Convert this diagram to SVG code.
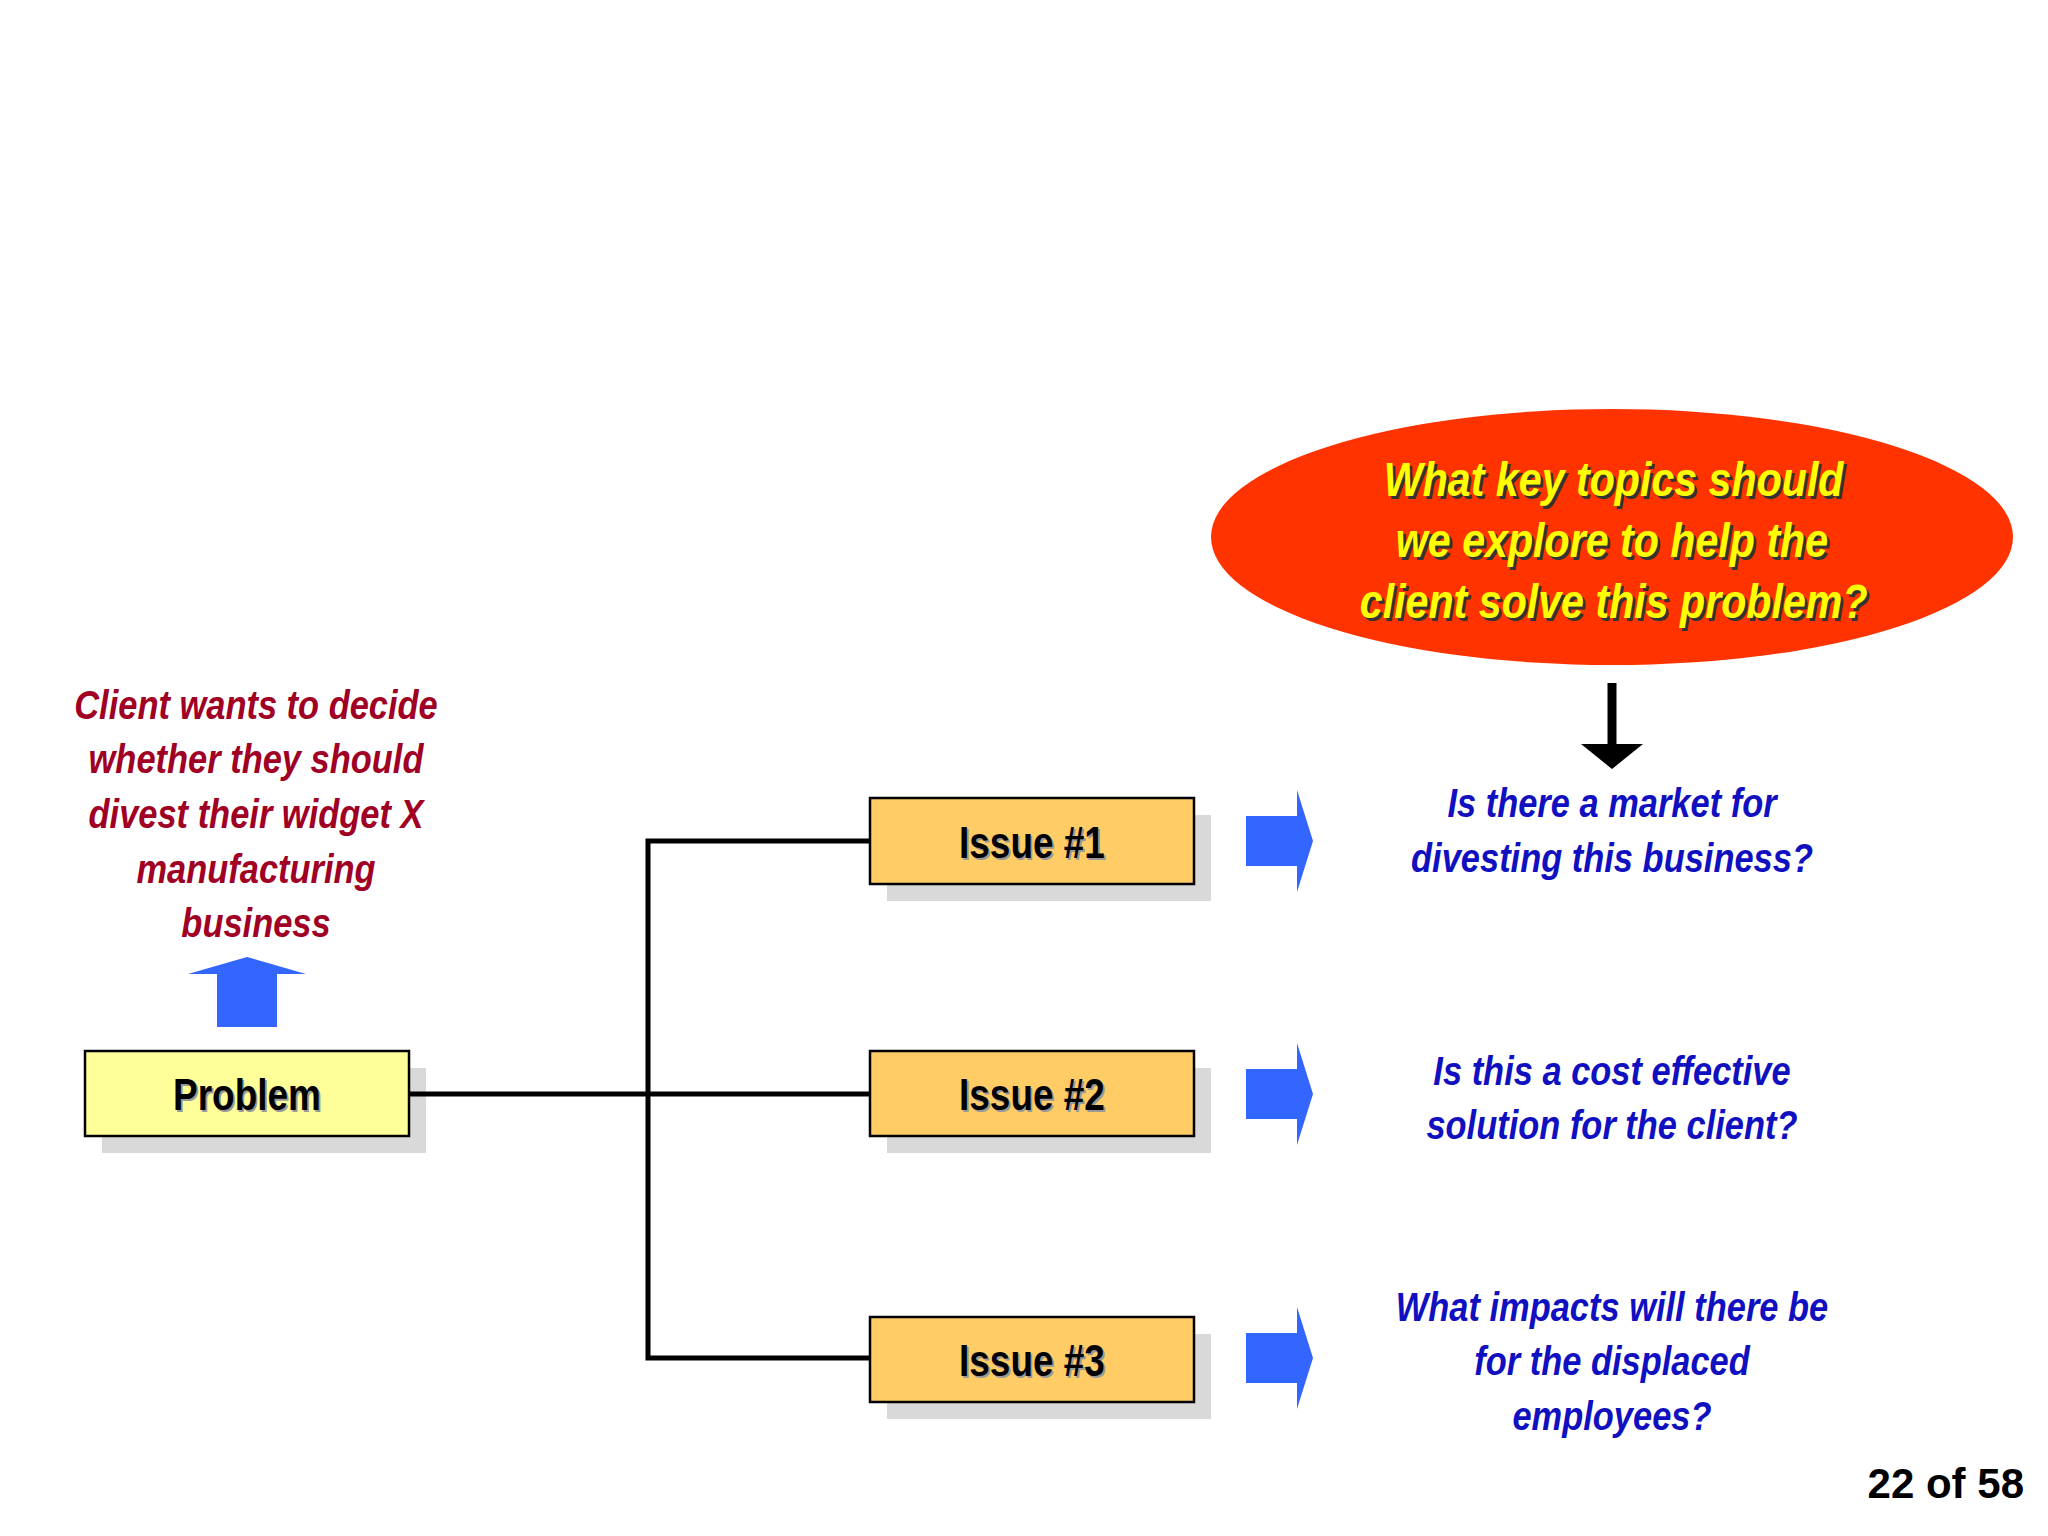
<svg xmlns="http://www.w3.org/2000/svg" width="2048" height="1536" viewBox="0 0 2048 1536">
<defs>
<style>
.sh{fill:#d9d9d9}
.box{stroke:#000;stroke-width:2.5}
.lbl{font-family:"Liberation Sans",Arial,sans-serif;font-weight:bold;font-size:44px;text-anchor:middle}
.q{font-family:"Liberation Sans",Arial,sans-serif;font-weight:bold;font-style:italic;font-size:41px;text-anchor:middle;fill:#1010c0}
.red{font-family:"Liberation Sans",Arial,sans-serif;font-weight:bold;font-style:italic;font-size:41px;text-anchor:middle;fill:#a00024}
.yel{font-family:"Liberation Sans",Arial,sans-serif;font-weight:bold;font-style:italic;font-size:49px;text-anchor:middle}
.barrow{fill:#3366ff}
</style>
<path id="ra" d="M1246,816 H1297 V790 L1313,841 L1297,892 V866 H1246 Z"/>
</defs>
<rect width="2048" height="1536" fill="#fff"/>
<g id="problem">
<rect class="sh" x="102" y="1068" width="324" height="85"/>
<rect class="box" x="85" y="1051" width="324" height="85" fill="#ffff99"/>
<g transform="translate(247,0) scale(0.84,1) translate(-247,0)">
<text class="lbl" x="249" y="1112" fill="#999">Problem</text>
<text class="lbl" x="247" y="1110">Problem</text>
</g>
</g>
<g id="issue1">
<rect class="sh" x="887" y="815" width="324" height="86"/>
<rect class="box" x="870" y="798" width="324" height="86" fill="#ffcc66"/>
<g transform="translate(1032,0) scale(0.84,1) translate(-1032,0)">
<text class="lbl" x="1034" y="860" fill="#999">Issue #1</text>
<text class="lbl" x="1032" y="858">Issue #1</text>
</g>
</g>
<g id="issue2">
<rect class="sh" x="887" y="1068" width="324" height="85"/>
<rect class="box" x="870" y="1051" width="324" height="85" fill="#ffcc66"/>
<g transform="translate(1032,0) scale(0.84,1) translate(-1032,0)">
<text class="lbl" x="1034" y="1112" fill="#999">Issue #2</text>
<text class="lbl" x="1032" y="1110">Issue #2</text>
</g>
</g>
<g id="issue3">
<rect class="sh" x="887" y="1334" width="324" height="85"/>
<rect class="box" x="870" y="1317" width="324" height="85" fill="#ffcc66"/>
<g transform="translate(1032,0) scale(0.84,1) translate(-1032,0)">
<text class="lbl" x="1034" y="1378" fill="#999">Issue #3</text>
<text class="lbl" x="1032" y="1376">Issue #3</text>
</g>
</g>
<g id="connectors" fill="none" stroke="#000" stroke-width="5">
<path d="M410,1094 H869"/>
<path d="M869,841 H648 V1358 H869"/>
</g>
<g id="arrows">
<use href="#ra" class="barrow"/>
<use href="#ra" class="barrow" y="253"/>
<use href="#ra" class="barrow" y="517"/>
<path class="barrow" d="M217,1027 V974 H188 L247,957 L306,974 H277 V1027 Z"/>
<path d="M1612,683 V750" stroke="#000" stroke-width="9"/>
<path d="M1581,744 H1643 L1612,769 Z" fill="#000"/>
</g>
<g id="question">
<ellipse cx="1612" cy="537" rx="401" ry="128" fill="#ff3300"/>
<g transform="translate(1612,0) scale(0.84,1) translate(-1612,0)">
<g fill="#333" transform="translate(3,3)">
<text class="yel" x="1614" y="496">What key topics should</text>
<text class="yel" x="1612" y="557">we explore to help the</text>
<text class="yel" x="1614" y="618">client solve this problem?</text>
</g>
<g fill="#ffff00">
<text class="yel" x="1614" y="496">What key topics should</text>
<text class="yel" x="1612" y="557">we explore to help the</text>
<text class="yel" x="1614" y="618">client solve this problem?</text>
</g>
</g>
</g>
<g id="client" transform="translate(256,0) scale(0.84,1) translate(-256,0)">
<text class="red" x="256" y="719">Client wants to decide</text>
<text class="red" x="256" y="773">whether they should</text>
<text class="red" x="256" y="828">divest their widget X</text>
<text class="red" x="256" y="883">manufacturing</text>
<text class="red" x="256" y="937">business</text>
</g>
<g id="q1" transform="translate(1612,0) scale(0.84,1) translate(-1612,0)">
<text class="q" x="1612" y="817">Is there a market for</text>
<text class="q" x="1612" y="872">divesting this business?</text>
</g>
<g id="q2" transform="translate(1612,0) scale(0.84,1) translate(-1612,0)">
<text class="q" x="1612" y="1085">Is this a cost effective</text>
<text class="q" x="1612" y="1139">solution for the client?</text>
</g>
<g id="q3" transform="translate(1612,0) scale(0.84,1) translate(-1612,0)">
<text class="q" x="1612" y="1321">What impacts will there be</text>
<text class="q" x="1612" y="1375">for the displaced</text>
<text class="q" x="1612" y="1430">employees?</text>
</g>
<text x="2024" y="1498" text-anchor="end" font-family="Liberation Sans,Arial,sans-serif" font-weight="bold" font-size="42">22 of 58</text>
</svg>
